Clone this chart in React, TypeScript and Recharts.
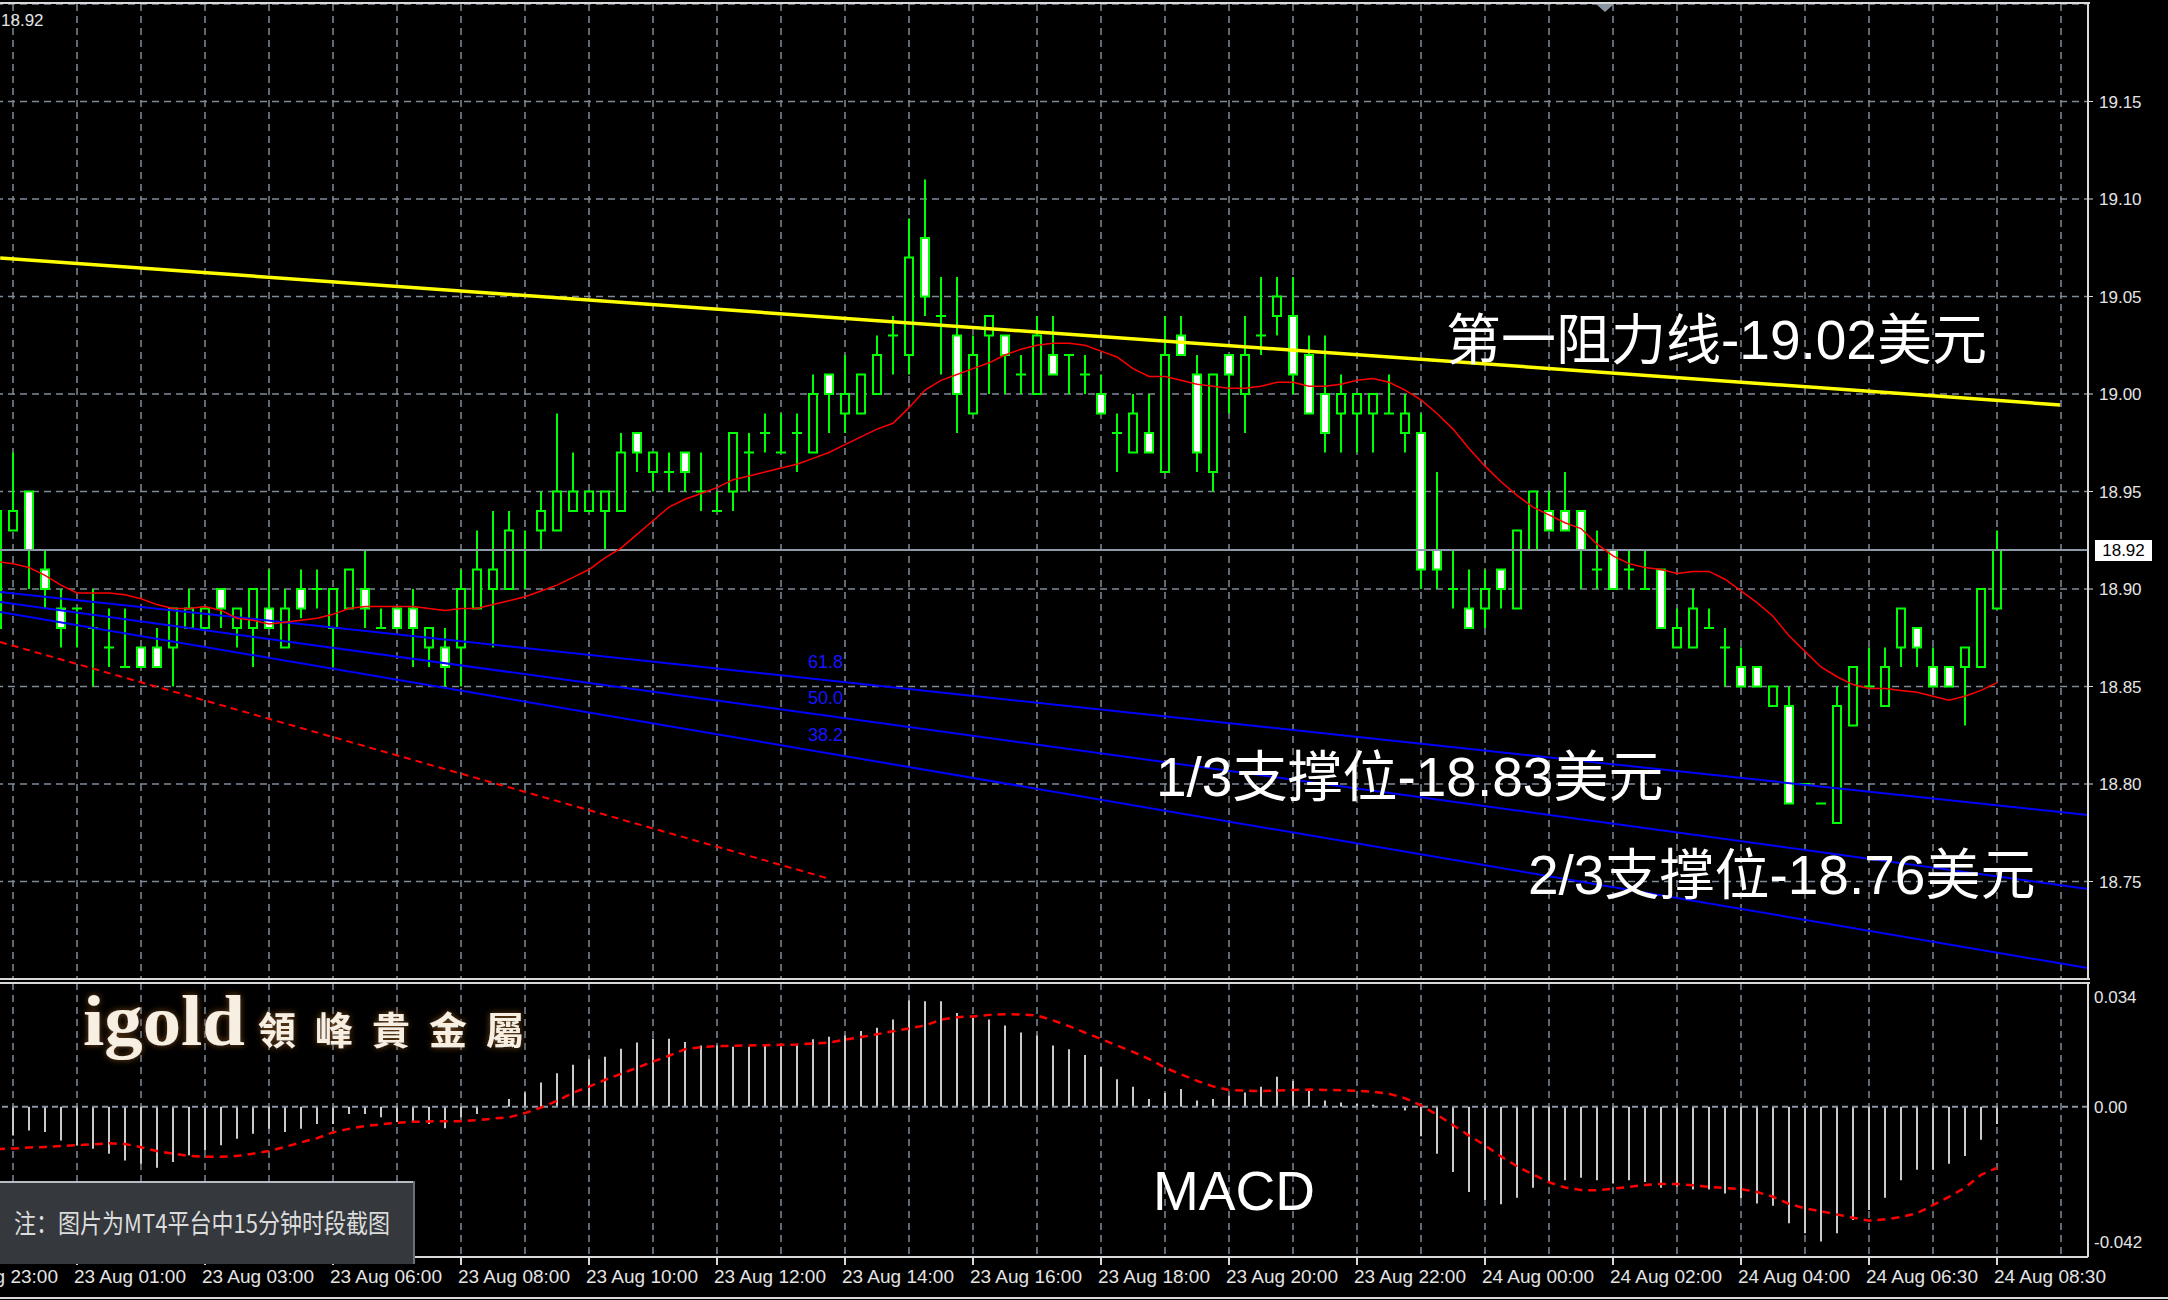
import React from "react";
import {
  Bar,
  CartesianGrid,
  ComposedChart,
  Line,
  ReferenceDot,
  ReferenceLine,
  XAxis,
  YAxis
} from "recharts";

// XAGUSD M15, bars indexed from -1 (first partly visible bar) to 124 (current bar)
const firstBar = -1;

const opens = [
  18.88, 18.93, 18.95, 18.91, 18.89, 18.89, 18.88, 18.87, 18.86, 18.87,
  18.87, 18.87, 18.88, 18.88, 18.90, 18.88, 18.88, 18.89, 18.87, 18.90,
  18.90, 18.88, 18.89, 18.90, 18.88, 18.89, 18.89, 18.87, 18.87, 18.87,
  18.89, 18.90, 18.90, 18.92, 18.93, 18.93, 18.94, 18.94, 18.94, 18.94,
  18.98, 18.96, 18.96, 18.97, 18.95, 18.94, 18.95, 18.97, 18.98, 18.97,
  18.98, 18.97, 19.01, 18.99, 18.99, 19.00, 19.03, 19.02, 19.08, 19.04,
  19.03, 18.99, 19.03, 19.03, 19.01, 19.00, 19.02, 19.02, 19.01, 19.00,
  18.98, 18.97, 18.98, 18.96, 19.03, 19.01, 18.96, 19.02, 19.00, 19.03,
  19.04, 19.04, 19.02, 19.00, 18.99, 18.99, 18.99, 18.99, 18.98, 18.98,
  18.92, 18.90, 18.89, 18.89, 18.91, 18.89, 18.92, 18.94, 18.94, 18.94,
  18.91, 18.92, 18.91, 18.90, 18.91, 18.87, 18.87, 18.88, 18.87, 18.86,
  18.86, 18.84, 18.84, 18.80, 18.79, 18.78, 18.83, 18.85, 18.84, 18.87,
  18.88, 18.86, 18.86, 18.86, 18.86, 18.89
];

const highs = [
  18.94, 18.97, 18.95, 18.92, 18.90, 18.89, 18.90, 18.89, 18.89, 18.87,
  18.88, 18.89, 18.90, 18.89, 18.90, 18.89, 18.90, 18.91, 18.90, 18.91,
  18.91, 18.90, 18.91, 18.92, 18.89, 18.89, 18.90, 18.88, 18.88, 18.91,
  18.93, 18.94, 18.94, 18.93, 18.95, 18.99, 18.97, 18.95, 18.95, 18.98,
  18.98, 18.97, 18.97, 18.97, 18.97, 18.95, 18.98, 18.98, 18.99, 18.99,
  18.99, 19.01, 19.01, 19.02, 19.01, 19.03, 19.04, 19.09, 19.11, 19.06,
  19.06, 19.03, 19.04, 19.03, 19.02, 19.04, 19.04, 19.02, 19.02, 19.01,
  18.99, 19.00, 19.00, 19.04, 19.04, 19.02, 19.01, 19.02, 19.04, 19.06,
  19.06, 19.06, 19.03, 19.03, 19.01, 19.00, 19.00, 19.01, 19.00, 18.99,
  18.96, 18.92, 18.91, 18.91, 18.91, 18.93, 18.95, 18.95, 18.96, 18.94,
  18.93, 18.92, 18.92, 18.92, 18.91, 18.89, 18.90, 18.89, 18.88, 18.87,
  18.86, 18.85, 18.85, 18.80, 18.79, 18.85, 18.86, 18.87, 18.87, 18.89,
  18.88, 18.87, 18.86, 18.87, 18.90, 18.93
];

const lows = [
  18.87, 18.93, 18.90, 18.89, 18.87, 18.87, 18.85, 18.86, 18.86, 18.86,
  18.86, 18.85, 18.88, 18.88, 18.88, 18.87, 18.86, 18.88, 18.87, 18.885,
  18.89, 18.86, 18.89, 18.88, 18.88, 18.88, 18.86, 18.86, 18.85, 18.85,
  18.89, 18.87, 18.90, 18.90, 18.92, 18.93, 18.94, 18.94, 18.92, 18.94,
  18.96, 18.95, 18.95, 18.95, 18.94, 18.94, 18.94, 18.95, 18.97, 18.97,
  18.96, 18.97, 18.98, 18.98, 18.99, 19.00, 19.01, 19.01, 19.04, 19.01,
  18.98, 18.99, 19.00, 19.00, 19.00, 19.00, 19.01, 19.00, 19.00, 18.99,
  18.96, 18.97, 18.97, 18.96, 19.02, 18.96, 18.95, 18.99, 18.98, 19.02,
  19.03, 19.00, 18.99, 18.97, 18.97, 18.97, 18.97, 18.99, 18.97, 18.90,
  18.90, 18.89, 18.88, 18.88, 18.89, 18.89, 18.92, 18.93, 18.93, 18.90,
  18.90, 18.90, 18.90, 18.90, 18.88, 18.87, 18.87, 18.88, 18.85, 18.85,
  18.85, 18.84, 18.79, 18.80, 18.79, 18.78, 18.83, 18.85, 18.84, 18.86,
  18.86, 18.85, 18.85, 18.83, 18.86, 18.89
];

const closes = [
  18.94, 18.94, 18.92, 18.90, 18.88, 18.89, 18.88, 18.87, 18.86, 18.86,
  18.86, 18.89, 18.89, 18.89, 18.89, 18.89, 18.90, 18.88, 18.89, 18.89,
  18.90, 18.90, 18.91, 18.89, 18.88, 18.88, 18.88, 18.88, 18.86, 18.90,
  18.91, 18.91, 18.93, 18.92, 18.94, 18.95, 18.95, 18.95, 18.95, 18.97,
  18.97, 18.97, 18.96, 18.96, 18.95, 18.94, 18.98, 18.97, 18.98, 18.97,
  18.98, 19.00, 19.00, 19.00, 19.01, 19.02, 19.03, 19.07, 19.05, 19.04,
  19.00, 19.02, 19.04, 19.02, 19.01, 19.03, 19.01, 19.02, 19.01, 18.99,
  18.98, 18.99, 18.97, 19.02, 19.02, 18.97, 19.01, 19.01, 19.02, 19.03,
  19.05, 19.01, 18.99, 18.98, 19.00, 19.00, 19.00, 18.99, 18.99, 18.91,
  18.91, 18.90, 18.88, 18.90, 18.90, 18.93, 18.95, 18.93, 18.93, 18.92,
  18.91, 18.90, 18.91, 18.90, 18.88, 18.88, 18.89, 18.88, 18.87, 18.85,
  18.85, 18.85, 18.79, 18.80, 18.79, 18.84, 18.86, 18.85, 18.86, 18.89,
  18.87, 18.85, 18.85, 18.87, 18.90, 18.92
];

// moving average drawn over the candles
const maValues = [
  18.914, 18.913, 18.911, 18.907, 18.902, 18.898, 18.898, 18.898, 18.897, 18.895,
  18.892, 18.890, 18.890, 18.891, 18.889, 18.885, 18.884, 18.882, 18.883, 18.884,
  18.885, 18.887, 18.890, 18.891, 18.891, 18.891, 18.891, 18.890, 18.889, 18.890,
  18.890, 18.892, 18.894, 18.896, 18.899, 18.902, 18.906, 18.910, 18.916, 18.921,
  18.928, 18.935, 18.942, 18.946, 18.949, 18.952, 18.956, 18.958, 18.960, 18.962,
  18.964, 18.967, 18.970, 18.974, 18.978, 18.982, 18.985, 18.993, 19.002, 19.007,
  19.010, 19.013, 19.016, 19.020, 19.023, 19.025, 19.026, 19.026, 19.025, 19.022,
  19.019, 19.013, 19.009, 19.009, 19.007, 19.005, 19.004, 19.003, 19.003, 19.004,
  19.006, 19.006, 19.004, 19.004, 19.005, 19.007, 19.008, 19.006, 19.002, 18.997,
  18.990, 18.982, 18.972, 18.963, 18.955, 18.948, 18.942, 18.938, 18.934, 18.931,
  18.923, 18.917, 18.913, 18.911, 18.910, 18.908, 18.909, 18.909, 18.905, 18.899,
  18.893, 18.886, 18.876, 18.868, 18.860, 18.855, 18.851, 18.849, 18.849, 18.848,
  18.847, 18.845, 18.843, 18.845, 18.848, 18.852
];

const macdHist = [
  -0.0095, -0.0090, -0.0074, -0.0079, -0.0105, -0.0120, -0.0131, -0.0146, -0.0167, -0.0177,
  -0.0190, -0.0172, -0.0151, -0.0136, -0.0120, -0.0100, -0.0084, -0.0069, -0.0079, -0.0069,
  -0.0054, -0.0054, -0.0023, -0.0023, -0.0033, -0.0048, -0.0048, -0.0054, -0.0067, -0.0033,
  -0.0023, -0.0004, 0.0024, 0.0044, 0.0075, 0.0104, 0.0130, 0.0147, 0.0155, 0.0180,
  0.0199, 0.0211, 0.0211, 0.0201, 0.0190, 0.0190, 0.0186, 0.0186, 0.0188, 0.0186,
  0.0194, 0.0209, 0.0217, 0.0221, 0.0235, 0.0245, 0.0271, 0.0330, 0.0327, 0.0327,
  0.0291, 0.0276, 0.0271, 0.0252, 0.0230, 0.0221, 0.0190, 0.0178, 0.0160, 0.0124,
  0.0085, 0.0062, 0.0024, 0.0042, 0.0055, 0.0019, 0.0024, 0.0034, 0.0044, 0.0062,
  0.0093, 0.0080, 0.0049, 0.0019, 0.0013, 0.0008, 0.0006, -0.0002, -0.0012, -0.0092,
  -0.0146, -0.0203, -0.0265, -0.0290, -0.0303, -0.0283, -0.0252, -0.0234, -0.0229, -0.0221,
  -0.0229, -0.0239, -0.0229, -0.0234, -0.0252, -0.0249, -0.0257, -0.0257, -0.0270, -0.0285,
  -0.0301, -0.0308, -0.0362, -0.0393, -0.0419, -0.0393, -0.0352, -0.0321, -0.0283, -0.0229,
  -0.0196, -0.0196, -0.0177, -0.0153, -0.0103, -0.0054
];

const macdSignal = [
  -0.0132, -0.0130, -0.0127, -0.0125, -0.0122, -0.0120, -0.0117, -0.0114, -0.0116, -0.0126,
  -0.0138, -0.0146, -0.0153, -0.0156, -0.0156, -0.0153, -0.0146, -0.0138, -0.0125, -0.0111,
  -0.0098, -0.0080, -0.0069, -0.0060, -0.0055, -0.0050, -0.0047, -0.0046, -0.0045, -0.0045,
  -0.0042, -0.0037, -0.0033, -0.0020, -0.0003, 0.0018, 0.0043, 0.0062, 0.0083, 0.0102,
  0.0121, 0.0140, 0.0158, 0.0178, 0.0185, 0.0188, 0.0189, 0.0190, 0.0191, 0.0192,
  0.0193, 0.0196, 0.0199, 0.0208, 0.0216, 0.0225, 0.0234, 0.0243, 0.0252, 0.0270,
  0.0278, 0.0280, 0.0285, 0.0287, 0.0286, 0.0283, 0.0268, 0.0250, 0.0230, 0.0210,
  0.0190, 0.0170, 0.0148, 0.0121, 0.0100, 0.0080, 0.0063, 0.0052, 0.0050, 0.0048,
  0.0050, 0.0052, 0.0053, 0.0052, 0.0051, 0.0049, 0.0046, 0.0040, 0.0026, 0.0004,
  -0.0025, -0.0057, -0.0090, -0.0120, -0.0155, -0.0185, -0.0211, -0.0235, -0.0251, -0.0259,
  -0.0260, -0.0255, -0.0249, -0.0243, -0.0240, -0.0240, -0.0244, -0.0249, -0.0253, -0.0256,
  -0.0265, -0.0280, -0.0302, -0.0316, -0.0325, -0.0335, -0.0345, -0.0354, -0.0350, -0.0343,
  -0.0331, -0.0306, -0.0280, -0.0252, -0.0212, -0.0190
];

const lastPrice = 18.92;
const priceTicks = [18.75, 18.8, 18.85, 18.9, 18.95, 19.0, 19.05, 19.1, 19.15];
const macdTicks = [0.034, 0, -0.042];

const timeTickBars = [-4, 4, 12, 20, 28, 36, 44, 52, 60, 68, 76, 84, 92, 100, 108, 116, 124];
const timeTickLabels = [
  "22 Aug 23:00", "23 Aug 01:00", "23 Aug 03:00", "23 Aug 06:00", "23 Aug 08:00",
  "23 Aug 10:00", "23 Aug 12:00", "23 Aug 14:00", "23 Aug 16:00", "23 Aug 18:00",
  "23 Aug 20:00", "23 Aug 22:00", "24 Aug 00:00", "24 Aug 02:00", "24 Aug 04:00",
  "24 Aug 06:30", "24 Aug 08:30"
];

// trend line objects (bar index, price)
const resistanceLine = [{ bar: -0.8, price: 19.0697 }, { bar: 127.94, price: 18.9944 }];
const fanLines = [
  [{ bar: -0.81, price: 18.8985 }, { bar: 129.68, price: 18.7841 }],
  [{ bar: -0.81, price: 18.8933 }, { bar: 129.68, price: 18.7462 }],
  [{ bar: -0.81, price: 18.8882 }, { bar: 129.68, price: 18.7056 }]
];
const fanLabels = [
  { text: "61.8", bar: 49.69, price: 18.8595 },
  { text: "50.0", bar: 49.69, price: 18.841 },
  { text: "38.2", bar: 49.69, price: 18.822 }
];
const dashedTrend = [{ bar: -0.81, price: 18.8728 }, { bar: 51.06, price: 18.7513 }];

const gridBars = Array.from({ length: 34 }, (_, k) => -4 + 4 * k);

const bars = opens.map((open, k) => ({
  i: firstBar + k,
  open,
  high: highs[k],
  low: lows[k],
  close: closes[k],
  range: [lows[k], highs[k]],
  ma: maValues[k],
  hist: macdHist[k],
  signal: macdSignal[k]
}));

const X_DOMAIN: [number, number] = [-4.8125, 129.6875];
const GREEN = "#00ff00";
const GRID = "#7f8b99";
const FRAME = "#d9d9d9";
const AXIS_TEXT = "#e4e4e4";
const SANS = "'Liberation Sans', Arial, sans-serif";
const MIXED = "'Liberation Sans', 'Noto Sans CJK SC', sans-serif";

function Candle(props: any) {
  const { x, y, width, height, payload } = props;
  if (!payload || x == null || y == null) return null;
  const cx = Math.round(x + width / 2);
  const top = Math.min(y, y + height);
  const bottom = Math.max(y, y + height);
  const span = payload.high - payload.low;
  const py = (p: number) => (span > 0 ? bottom - ((p - payload.low) / span) * (bottom - top) : top);
  const yo = py(payload.open);
  const yc = py(payload.close);
  const bodyTop = Math.min(yo, yc);
  const bodyBottom = Math.max(yo, yc);
  const bearish = payload.close < payload.open;
  return (
    <g>
      <line x1={cx} x2={cx} y1={top} y2={bottom} stroke={GREEN} strokeWidth={2} />
      {bodyBottom - bodyTop < 1 ? (
        <line x1={cx - 5} x2={cx + 5} y1={bodyTop} y2={bodyTop} stroke={GREEN} strokeWidth={2} />
      ) : (
        <rect
          x={cx - 4}
          y={bodyTop}
          width={8}
          height={bodyBottom - bodyTop}
          fill={bearish ? "#ffffff" : "#000000"}
          stroke={GREEN}
          strokeWidth={2}
        />
      )}
    </g>
  );
}

function PriceTag(props: any) {
  const vb = props.viewBox || {};
  const x = (vb.x ?? 0) + (vb.width ?? 0) + 7;
  const y = vb.y ?? 0;
  return (
    <g>
      <rect x={x} y={y - 10} width={57} height={21} fill="#ffffff" />
      <text x={x + 28.5} y={y + 6} textAnchor="middle" fontSize={17} fontFamily={SANS} fill="#000">
        {lastPrice.toFixed(2)}
      </text>
    </g>
  );
}

function FanText(props: any) {
  const vb = props.viewBox || {};
  return (
    <text x={vb.x} y={vb.y} fontSize={18} fontFamily={SANS} fill="#1515ff">
      {props.text}
    </text>
  );
}

function TimeTick(props: any) {
  const { x, y, payload } = props;
  const k = timeTickBars.indexOf(payload.value);
  if (k < 0) return null;
  return (
    <text
      x={x - 3}
      y={y + 16}
      fontSize={19}
      fontFamily={SANS}
      fill={AXIS_TEXT}
      textLength={112}
      lengthAdjust="spacingAndGlyphs"
    >
      {timeTickLabels[k]}
    </text>
  );
}

function PricePanel() {
  return (
    <ComposedChart width={2232} height={982} data={bars} margin={{ top: 4, right: 0, bottom: 3, left: 0 }}>
      <CartesianGrid stroke={GRID} strokeDasharray="7 5" strokeWidth={1.5} />
      <XAxis type="number" dataKey="i" domain={X_DOMAIN} ticks={gridBars} allowDataOverflow hide />
      <YAxis
        orientation="right"
        width={80}
        domain={[18.7, 19.2]}
        ticks={priceTicks}
        interval={0}
        allowDataOverflow
        tickFormatter={(v: number) => v.toFixed(2)}
        tick={{ fill: AXIS_TEXT, fontSize: 17, fontFamily: SANS }}
        tickSize={5}
        tickMargin={6}
        tickLine={{ stroke: FRAME }}
        axisLine={{ stroke: FRAME, strokeWidth: 2 }}
      />
      {fanLines.map((seg, k) => (
        <ReferenceLine
          key={k}
          segment={[{ x: seg[0].bar, y: seg[0].price }, { x: seg[1].bar, y: seg[1].price }]}
          stroke="#0000ff"
          strokeWidth={2}
        />
      ))}
      <ReferenceLine
        segment={[
          { x: dashedTrend[0].bar, y: dashedTrend[0].price },
          { x: dashedTrend[1].bar, y: dashedTrend[1].price }
        ]}
        stroke="#ff0000"
        strokeWidth={2}
        strokeDasharray="7 5"
      />
      <ReferenceLine y={lastPrice} stroke="#8e99a6" strokeWidth={2} label={<PriceTag />} />
      <Bar dataKey="range" barSize={10} isAnimationActive={false} shape={(p: any) => <Candle {...p} />} />
      <Line
        type="linear"
        dataKey="ma"
        stroke="#ff0000"
        strokeWidth={1.5}
        dot={false}
        activeDot={false}
        isAnimationActive={false}
      />
      <ReferenceLine
        segment={[
          { x: resistanceLine[0].bar, y: resistanceLine[0].price },
          { x: resistanceLine[1].bar, y: resistanceLine[1].price }
        ]}
        stroke="#ffff00"
        strokeWidth={3.5}
      />
      {fanLabels.map((f) => (
        <ReferenceDot
          key={f.text}
          x={f.bar}
          y={f.price}
          r={0}
          fill="none"
          stroke="none"
          label={<FanText text={f.text} />}
        />
      ))}
    </ComposedChart>
  );
}

function MacdPanel() {
  return (
    <ComposedChart width={2232} height={317} data={bars} margin={{ top: 0, right: 0, bottom: 0, left: 0 }}>
      <CartesianGrid xAxisId="grid" horizontal={false} stroke={GRID} strokeDasharray="7 5" strokeWidth={1.5} />
      <XAxis xAxisId="grid" type="number" dataKey="i" domain={X_DOMAIN} ticks={gridBars} allowDataOverflow hide />
      <XAxis
        type="number"
        dataKey="i"
        domain={X_DOMAIN}
        ticks={timeTickBars}
        interval={0}
        allowDataOverflow
        height={43}
        tickSize={8}
        tickMargin={2}
        tick={(p: any) => <TimeTick {...p} />}
        tickLine={{ stroke: FRAME, strokeWidth: 2 }}
        axisLine={{ stroke: FRAME, strokeWidth: 2 }}
      />
      <YAxis
        orientation="right"
        width={80}
        domain={[-0.0467, 0.0384]}
        ticks={macdTicks}
        interval={0}
        allowDataOverflow
        tickFormatter={(v: number) => (v === 0 ? "0.00" : v.toFixed(3))}
        tick={{ fill: AXIS_TEXT, fontSize: 17, fontFamily: SANS }}
        tickSize={0}
        tickMargin={6}
        tickLine={false}
        axisLine={{ stroke: FRAME, strokeWidth: 2 }}
      />
      <ReferenceLine y={0} stroke="#8a96a4" strokeWidth={2} strokeDasharray="6 4" />
      <Bar dataKey="hist" barSize={2} fill="#cacaca" isAnimationActive={false} />
      <Line
        type="linear"
        dataKey="signal"
        stroke="#ff0000"
        strokeWidth={2.5}
        strokeDasharray="8 6"
        dot={false}
        activeDot={false}
        isAnimationActive={false}
      />
    </ComposedChart>
  );
}

export default function App() {
  return (
    <div
      style={{
        position: "fixed",
        left: 0,
        top: 0,
        width: 2168,
        height: 1300,
        background: "#000",
        overflow: "hidden"
      }}
    >
      <div style={{ position: "absolute", left: -64, top: 0 }}>
        <PricePanel />
      </div>
      <div style={{ position: "absolute", left: -64, top: 983 }}>
        <MacdPanel />
      </div>
      <svg
        width={2168}
        height={1300}
        style={{ position: "absolute", left: 0, top: 0, pointerEvents: "none" }}
      >
        <defs>
          <filter id="glow" x="-20%" y="-40%" width="140%" height="180%">
            <feGaussianBlur in="SourceAlpha" stdDeviation="3" result="blur" />
            <feFlood floodColor="#7a4a1c" />
            <feComposite in2="blur" operator="in" />
            <feMerge>
              <feMergeNode />
              <feMergeNode in="SourceGraphic" />
            </feMerge>
          </filter>
        </defs>

        {/* window frame */}
        <rect x={0} y={2} width={2090} height={2} fill={FRAME} />
        <rect x={0} y={978} width={2090} height={2} fill={FRAME} />
        <rect x={0} y={982} width={2090} height={2} fill={FRAME} />
        <rect x={0} y={1297} width={2168} height={2} fill={FRAME} />
        <polygon points="1596,4 1614,4 1605,12" fill="#8a95a3" />

        <text x={1} y={26} fontSize={17} fontFamily={SANS} fill={AXIS_TEXT}>
          {lastPrice.toFixed(2)}
        </text>

        {/* annotations */}
        <g fill="#ffffff" fontFamily={MIXED} fontSize={55}>
          <text x={1446} y={359}>第一阻力线-19.02美元</text>
          <text x={1156} y={796}>1/3支撑位-18.83美元</text>
          <text x={1528} y={894}>2/3支撑位-18.76美元</text>
          <text x={1153} y={1210}>MACD</text>
        </g>

        {/* logo */}
        <g filter="url(#glow)" fill="#f6efe2">
          <text
            x={83}
            y={1045}
            fontSize={72}
            fontWeight="bold"
            fontFamily="'Liberation Serif', serif"
            textLength={162}
            lengthAdjust="spacingAndGlyphs"
          >
            igold
          </text>
          <text x={258} y={1044} fontSize={38} fontWeight={700} fontFamily="'Noto Sans CJK TC', sans-serif" letterSpacing={19}>
            領峰貴金屬
          </text>
        </g>

        {/* note box */}
        <rect x={0} y={1181} width={415} height={83} fill="#35383d" />
        <rect x={0} y={1181} width={415} height={2} fill="#b8bcc2" />
        <rect x={413} y={1181} width={2} height={83} fill="#6c7076" />
        <text
          x={14}
          y={1233}
          fontSize={26}
          fontFamily="'Noto Sans CJK SC', sans-serif"
          fill="#dcdcdc"
          textLength={376}
          lengthAdjust="spacingAndGlyphs"
        >
          注：图片为MT4平台中15分钟时段截图
        </text>
      </svg>
    </div>
  );
}
